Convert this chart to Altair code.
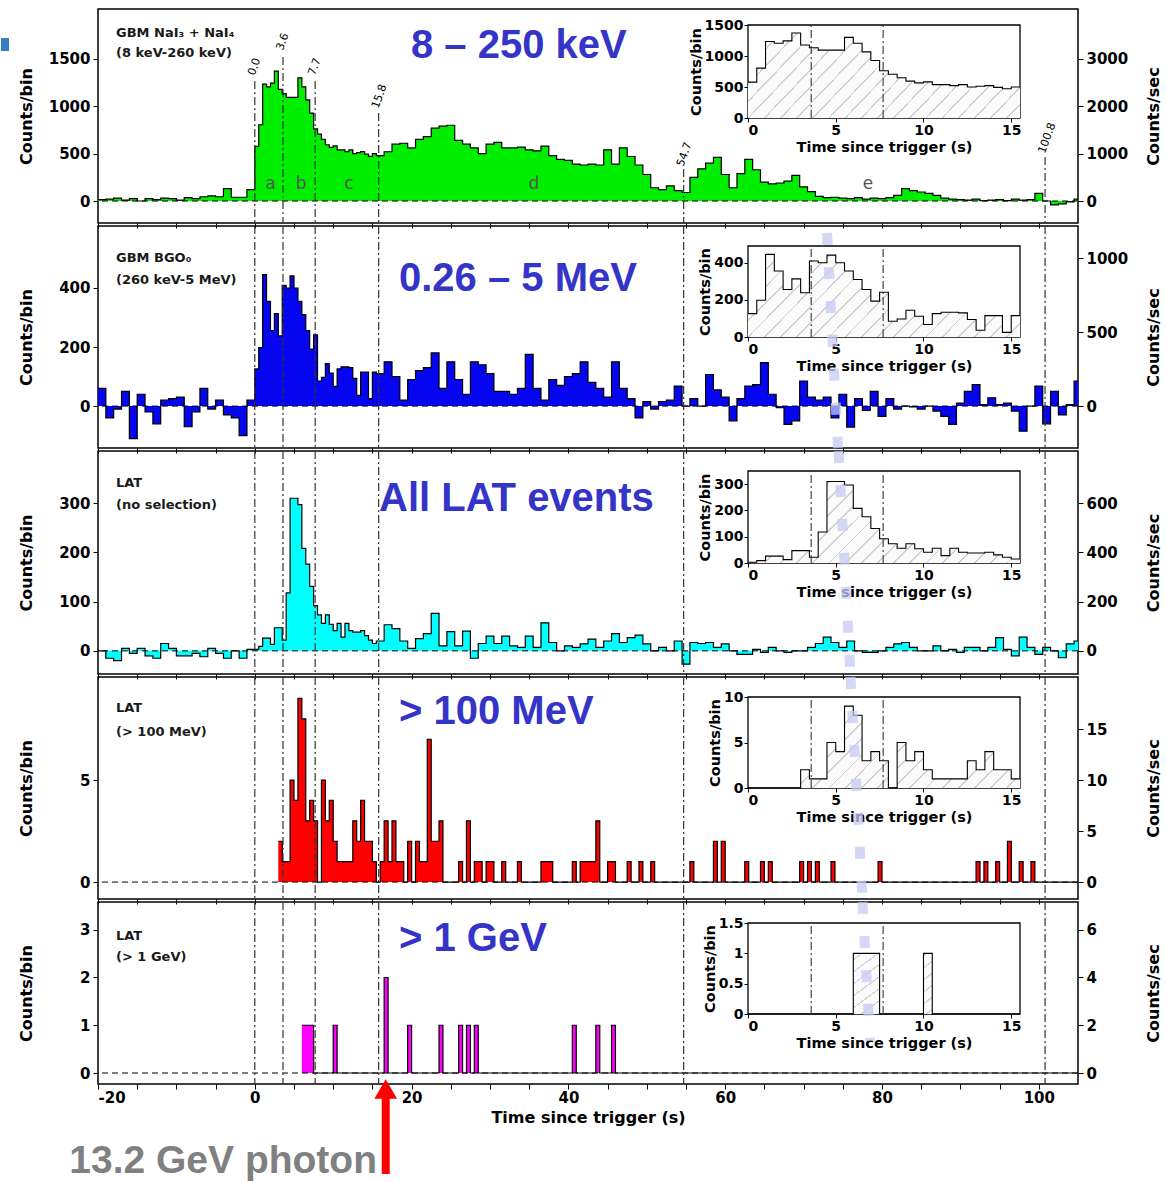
import altair as alt
import pandas as pd

# ---------------------------------------------------------------------------
# Light curves of GRB 080916C, counts per bin versus time since trigger
# ---------------------------------------------------------------------------
T_MIN, T_MAX = -20.0, 105.0

boundaries = [0.0, 3.6, 7.7, 15.8, 54.7, 100.8]
boundary_text = ["0.0", "3.6", "7.7", "15.8", "54.7", "100.8"]
interval_names = ["a", "b", "c", "d", "e"]
interval_centres = [2.0, 5.9, 12.0, 35.6, 78.2]

# GBM NaI3 + NaI4 (8 keV - 260 keV)
# 1 s bins from -20 s, 0.5 s bins from 0 to 15.5 s, 1 s bins from 15.5 s
nai_pre = [15, 20, 30, 10, 25, 0, 25, 15, 30, 25,
           10, 35, 25, 45, 55, 45, 130, 40, 40, 120]
nai_burst = [578, 805, 1233, 1205, 1244, 1372, 1178, 1133, 1094, 1094,
             1094, 1300, 1205, 1067, 928, 761, 706, 650, 594, 567,
             583, 539, 539, 522, 539, 500, 511, 522, 494, 472, 500]
nai_post = [480, 520, 600, 610, 560, 650, 680, 770, 790, 800,
            640, 600, 560, 500, 600, 620, 560, 560, 570, 540,
            530, 580, 480, 440, 430, 390, 380, 390, 380, 540,
            390, 560, 470, 380, 280, 140, 120, 160, 110, 90,
            250, 340, 400, 460, 280, 140, 290, 440, 330, 200,
            180, 190, 210, 270, 150, 100, 50, 35, 40, 30,
            25, 35, 20, 30, 25, 35, 60, 130, 110, 95,
            80, 60, 30, 20, 15, 10, 20, 5, 10, 15,
            5, 20, 10, 15, 80, 0, -40, -30, -10, 20]

# GBM BGO0 (260 keV - 5 MeV)
bgo_pre = [60, -40, -10, 50, -110, 40, -20, -60, 20, 25,
           30, -70, -20, 60, -10, 20, -30, -40, -100, 20]
bgo_burst = [126, 198, 445, 355, 256, 313, 238, 409, 400, 441,
             400, 355, 310, 256, 193, 241, 85, 97, 144, 112,
             67, 126, 133, 133, 130, 94, 36, 115, 115, 25, 115]
bgo_post = [110, 150, 100, 20, 90, 120, 130, 180, 60, 150,
            90, 40, 150, 140, 110, 50, 50, 40, 60, 175,
            60, 20, 90, 70, 100, 110, 150, 80, 60, 30,
            150, 60, 25, -40, 15, -10, 15, 20, 68, 0,
            25, 0, 107, 55, 30, -50, 25, 68, 73, 147,
            40, -5, -62, -50, 85, 30, 20, 30, -40, 40,
            -71, 25, -15, 50, -35, 25, -10, 0, -3, -10,
            0, -17, -35, -62, 10, 50, 73, 5, 28, 5,
            10, -17, -85, 0, 68, -60, 50, -30, 5, 85]

# LAT, no selection
lat_pre = [0, -15, -20, 5, -5, 5, -10, -15, 15, 5,
           -10, -10, -5, -12, 5, -5, -15, 0, -15, 3]
lat_burst = [3, 9, 26, 26, 13, 47, 47, 22, 118, 310,
             310, 297, 208, 176, 131, 92, 73, 56, 73, 54,
             41, 56, 28, 56, 41, 38, 38, 41, 31, 22, 15]
lat_post = [20, 53, 45, 20, 5, 25, 35, 76, 10, 39,
            10, 40, -15, 15, 30, 15, 30, 10, 7, 30,
            7, 57, 17, 0, 10, 7, 14, 24, 7, 20,
            35, 17, 27, 32, 14, 0, 7, 0, 20, -27,
            17, 15, 17, 7, 14, 0, -7, -7, 3, -3,
            7, 0, -3, 0, 0, 7, 15, 28, 17, 7,
            20, 0, -3, -3, 0, 7, 14, 17, 7, 0,
            0, 10, 0, 3, -3, 7, 7, 0, 7, 27,
            3, -10, 28, 7, -7, 7, 0, -14, 14, 20]

# LAT > 100 MeV: start time of each non-empty 0.5 s bin and its counts
lat100_t = [3.0, 3.5, 4.0, 4.5, 5.0, 5.5, 6.0, 6.5, 7.0, 7.5,
            8.5, 9.0, 9.5, 10.0, 10.5, 11.0, 11.5, 12.0, 12.5, 13.0,
            13.5, 14.0, 14.5, 15.0,
            16.0, 16.5, 17.0, 17.5, 18.0, 18.5,
            19.5, 20.5, 21.0, 21.5, 22.0, 22.5, 23.0, 23.5,
            26.0, 27.0, 28.0, 28.5, 29.5, 30.0, 31.5,
            33.5, 36.5, 37.0, 37.5, 40.5, 41.5, 42.0, 42.5, 43.0, 43.5,
            45.0, 45.5, 47.5, 49.0, 50.5, 55.5, 58.5, 59.5, 62.5, 64.5, 65.5,
            69.5, 70.5, 71.5, 73.5, 79.5, 92.0, 93.0, 94.5, 96.0, 97.5, 99.0]
lat100_n = [2, 1, 1, 5, 4, 9, 8, 3, 4, 3,
            5, 3, 4, 2, 1, 1, 1, 1, 3, 2,
            4, 2, 2, 1,
            1, 3, 1, 3, 1, 1,
            2, 2, 1, 1, 7, 2, 2, 3,
            1, 3, 1, 1, 1, 1, 1,
            1, 1, 1, 1, 1, 1, 1, 1, 1, 3,
            1, 1, 1, 1, 1, 1, 2, 2, 1, 1, 1,
            1, 1, 1, 1, 1, 1, 1, 1, 2, 1, 1]

# LAT > 1 GeV
lat1g_t = [6.0, 6.5, 7.0, 10.0, 16.5, 19.5, 23.5, 26.0, 27.0, 28.0, 40.5, 43.5, 45.5]
lat1g_n = [1, 1, 1, 1, 2, 1, 1, 1, 1, 1, 1, 1, 1]

photon_time = 16.7
photon_text = "13.2 GeV photon"


# ---------------------------------------------------------------------------
# table builders
# ---------------------------------------------------------------------------
def mixed_bins(pre, burst, post):
    t0 = ([T_MIN + i for i in range(len(pre))]
          + [0.5 * i for i in range(len(burst))]
          + [15.5 + i for i in range(len(post))])
    width = [1.0] * len(pre) + [0.5] * len(burst) + [1.0] * len(post)
    df = pd.DataFrame({"t0": t0, "v": pre + burst + post})
    df["t1"] = df["t0"] + width
    return df


def fine_bins(values, start=0.0):
    t0 = [start + 0.5 * i for i in range(len(values))]
    return pd.DataFrame({"t0": t0, "t1": [t + 0.5 for t in t0], "v": values})


def sparse_bins(times, counts, start, stop):
    n = int(round((stop - start) * 2))
    filled = {int(round(t * 2)): c for t, c in zip(times, counts)}
    t0 = [start + 0.5 * i for i in range(n)]
    vals = [filled.get(int(round(t * 2)), 0) for t in t0]
    return fine_bins(vals, start)


def outline(df):
    """Step outline: one point per bin start plus the closing edge."""
    out = pd.DataFrame({"t": list(df["t0"]) + [df["t1"].iloc[-1]],
                        "v": list(df["v"]) + [df["v"].iloc[-1]]})
    out["zero"] = 0.0
    return out


def hatch_fill():
    stops = []
    n = 22
    for k in range(n):
        a, b, c = k / n, (k + 0.11) / n, (k + 1) / n
        stops += [alt.GradientStop(color="#cfcfcf", offset=a),
                  alt.GradientStop(color="#cfcfcf", offset=b),
                  alt.GradientStop(color="#fbfbfb", offset=b),
                  alt.GradientStop(color="#fbfbfb", offset=c)]
    return alt.LinearGradient(gradient="linear", stops=stops,
                              x1=0, y1=0, x2=1.2, y2=0.36)


FONT = "DejaVu Sans"
BIG_FONT = "Liberation Sans"
W = 980
DASHDOT = [8, 3, 2, 3]


def ax(**kw):
    base = dict(grid=False, domain=False, tickColor="black", tickSize=5,
                labelFont=FONT, labelFontWeight="bold", labelFontSize=15,
                labelColor="black", titleFont=FONT, titleFontWeight="bold",
                titleFontSize=16, titleColor="black", labelPadding=3,
                format="~r")
    base.update(kw)
    return alt.Axis(**base)


def panel(p):
    H = p["H"]
    xs = alt.Scale(domain=[T_MIN, T_MAX], nice=False, zero=False)
    ys = alt.Scale(domain=p["ydom"], nice=False, zero=False)
    line = outline(p["hist"])

    ticks = list(range(-20, 105, 5))
    if p.get("last"):
        xaxis = ax(values=ticks, title="Time since trigger (s)",
                   labelExpr="datum.value % 20 == 0 ? '' + datum.value : ''",
                   titlePadding=4, labelPadding=1)
    else:
        xaxis = ax(values=ticks, labels=False, title=None)
    yaxis = ax(values=p["yticks"], title="Counts/bin", titleAngle=270,
               titleX=-72, titleY=H / 2, titleAlign="center",
               titleBaseline="middle")
    X = lambda f: alt.X(f, scale=xs, axis=xaxis)
    Y = lambda f: alt.Y(f, scale=ys, axis=yaxis)

    layers = [
        alt.Chart(line).mark_area(interpolate="step-after", color=p["fill"],
                                  clip=True).encode(
            x=X("t:Q"), y=Y("v:Q"), y2="zero"),
        alt.Chart(pd.DataFrame({"z": [0.0]})).mark_rule(
            color="black", strokeDash=[6, 4], strokeWidth=1).encode(y=Y("z:Q")),
        alt.Chart(line).mark_line(interpolate="step-after", color="black",
                                  strokeWidth=1.2, clip=True).encode(
            x=X("t:Q"), y=Y("v:Q")),
        alt.Chart(pd.DataFrame({"t": boundaries, "top": p["vtop"]})).mark_rule(
            color="#333333", strokeDash=DASHDOT, strokeWidth=1.2).encode(
            x=X("t:Q"), y=alt.Y("top:Q", scale=None), y2=alt.value(H)),
        alt.Chart(pd.DataFrame({"s": p["labels"], "py": p["label_y"]})).mark_text(
            font=FONT, fontWeight="bold", fontSize=13, align="left",
            baseline="middle", color="#1a1a1a").encode(
            x=alt.value(18), y=alt.Y("py:Q", scale=None), text="s:N"),
        alt.Chart(pd.DataFrame({"s": [p["band"]]})).mark_text(
            font=BIG_FONT, fontWeight="bold", fontSize=40, align="left",
            baseline="middle", color="#3434c8").encode(
            x=alt.value(p["band_xy"][0]), y=alt.value(p["band_xy"][1]), text="s:N"),
    ]

    if p.get("first"):
        tags = pd.DataFrame({"t": [b - 0.4 for b in boundaries],
                             "s": boundary_text,
                             "py": [66, 41, 66, 99, 157, 144]})
        layers.append(alt.Chart(tags).mark_text(
            font=FONT, fontSize=11, angle=290, align="left", baseline="middle",
            color="black").encode(
            x=X("t:Q"), y=alt.Y("py:Q", scale=None), text="s:N"))
        letters = pd.DataFrame({"t": interval_centres, "s": interval_names})
        layers.append(alt.Chart(letters).mark_text(
            font=FONT, fontSize=17, align="center", baseline="middle",
            color="#555555").encode(x=X("t:Q"), y=alt.value(175), text="s:N"))
        # small slide bullet in the top-left corner
        layers.append(alt.Chart(pd.DataFrame({"k": [0]})).mark_rect(
            color="#3b7bc4").encode(
            x=alt.value(-97), x2=alt.value(-89), y=alt.value(29), y2=alt.value(42)))

    if p.get("last"):
        arrow = pd.DataFrame({"t": [photon_time], "s": [photon_text]})
        layers.append(alt.Chart(arrow).mark_rule(
            color="#ff0000", strokeWidth=8).encode(
            x=X("t:Q"), y=alt.value(196), y2=alt.value(272)))
        layers.append(alt.Chart(arrow).mark_point(
            shape="triangle-up", filled=True, color="#ff0000", opacity=1,
            size=520).encode(x=X("t:Q"), y=alt.value(187)))
        layers.append(alt.Chart(arrow).mark_text(
            font=BIG_FONT, fontWeight="bold", fontSize=39, align="right",
            baseline="middle", color="#808080").encode(
            x=alt.value(279), y=alt.value(259), text="s:N"))

    main = alt.layer(*layers)

    # right-hand axis: counts per second (0.5 s bins)
    rdom = [2 * p["ydom"][0], 2 * p["ydom"][1]]
    second = alt.Chart(pd.DataFrame({"r": [0.0]})).mark_point(opacity=0).encode(
        y=alt.Y("r:Q", scale=alt.Scale(domain=rdom, nice=False, zero=False),
                axis=ax(orient="right", values=p["rticks"], title="Counts/sec",
                        titleAngle=270, titleX=75, titleY=H / 2,
                        titleAlign="center", titleBaseline="middle")))

    # inset: first 15.5 s
    it, ib, ymax = p["inset_top"], p["inset_bottom"], p["inset_ymax"]
    ix = alt.Scale(domain=[0, 15.5], range=[650, 922], nice=False, zero=False)
    iy = alt.Scale(domain=[0, ymax], range=[ib, it], nice=False, zero=False)
    ixaxis = ax(orient="bottom", offset=ib - H, values=[0, 5, 10, 15],
                title="Time since trigger (s)", labelFontSize=14,
                titleFontSize=14.5, tickSize=4, labelPadding=1, titlePadding=3)
    iyaxis = ax(orient="left", offset=-650, values=p["inset_ticks"],
                title="Counts/bin", labelFontSize=14, titleFontSize=14.5,
                tickSize=4, labelPadding=1, titlePadding=1)
    IX = lambda f: alt.X(f, scale=ix, axis=ixaxis)
    IY = lambda f: alt.Y(f, scale=iy, axis=iyaxis)
    ins = outline(p["inset"])
    frame = pd.DataFrame({"x0": [0.0], "x1": [15.5], "y0": [0.0], "y1": [ymax]})
    inset = alt.layer(
        alt.Chart(frame).mark_rect(fill="white", stroke="black",
                                   strokeWidth=1.3).encode(
            x=IX("x0:Q"), x2="x1", y=IY("y0:Q"), y2="y1"),
        alt.Chart(ins).mark_area(interpolate="step-after",
                                 color=hatch_fill()).encode(
            x=IX("t:Q"), y=IY("v:Q")),
        alt.Chart(ins).mark_line(interpolate="step-after",
                                 color="black", strokeWidth=1.1).encode(
            x=IX("t:Q"), y=IY("v:Q")),
        alt.Chart(pd.DataFrame({"t": boundaries[1:3], "y0": 0.0, "y1": ymax})).mark_rule(
            color="#333333", strokeDash=DASHDOT, strokeWidth=1.1).encode(
            x=IX("t:Q"), y=IY("y0:Q"), y2="y1"),
    )

    parts = [main, second, inset]
    if p.get("haze"):
        x0, x1, y0, y1 = p["haze"]
        parts.append(alt.Chart(pd.DataFrame({"k": [0]})).mark_rule(
            color="#c6caf3", strokeWidth=10, strokeDash=[12, 22],
            opacity=0.75).encode(
            x=alt.value(x0), x2=alt.value(x1), y=alt.value(y0), y2=alt.value(y1)))

    return alt.layer(*parts).resolve_scale(
        x="independent", y="independent").properties(width=W, height=H)


panels = [
    dict(H=214, ydom=[-232, 2027], yticks=[0, 500, 1000, 1500],
         rticks=[0, 1000, 2000, 3000], fill="#00ee00",
         hist=mixed_bins(nai_pre, nai_burst, nai_post),
         inset=fine_bins(nai_burst), inset_ymax=1500,
         inset_ticks=[0, 500, 1000, 1500], inset_top=16, inset_bottom=109,
         labels=["GBM NaI\u2083 + NaI\u2084", "(8 keV-260 keV)"], label_y=[24, 44],
         band="8 \u2013 250 keV", band_xy=(313, 37),
         vtop=[72, 48, 72, 104, 160, 148], first=True),
    dict(H=222, ydom=[-142, 610], yticks=[0, 200, 400],
         rticks=[0, 500, 1000], fill="#0505f0",
         hist=mixed_bins(bgo_pre, bgo_burst, bgo_post),
         inset=fine_bins(bgo_burst), inset_ymax=490,
         inset_ticks=[0, 200, 400], inset_top=20, inset_bottom=111,
         labels=["GBM BGO\u2080", "(260 keV-5 MeV)"], label_y=[32, 54],
         band="0.26 \u2013 5 MeV", band_xy=(301, 53),
         vtop=[0] * 6, haze=(729, 740, 7, 222)),
    dict(H=223, ydom=[-47, 406], yticks=[0, 100, 200, 300],
         rticks=[0, 200, 400, 600], fill="#00ffff",
         hist=mixed_bins(lat_pre, lat_burst, lat_post),
         inset=fine_bins(lat_burst), inset_ymax=350,
         inset_ticks=[0, 100, 200, 300], inset_top=20, inset_bottom=112,
         labels=["LAT", "(no selection)"], label_y=[32, 54],
         band="All LAT events", band_xy=(281, 48),
         vtop=[0] * 6, haze=(740.5, 752.5, 0, 223)),
    dict(H=222, ydom=[-0.83, 10.05], yticks=[0, 5],
         rticks=[0, 5, 10, 15], fill="#ff0000",
         hist=sparse_bins(lat100_t, lat100_n, 3.0, T_MAX),
         inset=sparse_bins(lat100_t, lat100_n, 0.0, 15.5), inset_ymax=10,
         inset_ticks=[0, 5, 10], inset_top=20, inset_bottom=111,
         labels=["LAT", "(> 100 MeV)"], label_y=[31, 55],
         band="> 100 MeV", band_xy=(301, 35),
         vtop=[0] * 6, haze=(752.5, 764.5, 0, 222)),
    dict(H=182, ydom=[-0.23, 3.58], yticks=[0, 1, 2, 3],
         rticks=[0, 2, 4, 6], fill="#ff00ff",
         hist=sparse_bins(lat1g_t, lat1g_n, 6.0, T_MAX),
         inset=sparse_bins(lat1g_t, lat1g_n, 0.0, 15.5), inset_ymax=1.5,
         inset_ticks=[0, 0.5, 1, 1.5], inset_top=21, inset_bottom=112,
         labels=["LAT", "(> 1 GeV)"], label_y=[34, 55],
         band="> 1 GeV", band_xy=(301, 37),
         vtop=[0] * 6, haze=(764.5, 772, 0, 139), last=True),
]

chart = alt.vconcat(*[panel(p) for p in panels], spacing=3, bounds="flush").properties(
    padding={"left": 0, "top": 8, "right": 4, "bottom": 4}
).configure_view(stroke="black", strokeWidth=1.5)

chart.save("out.html", embed_options={"renderer": "svg", "actions": False})
